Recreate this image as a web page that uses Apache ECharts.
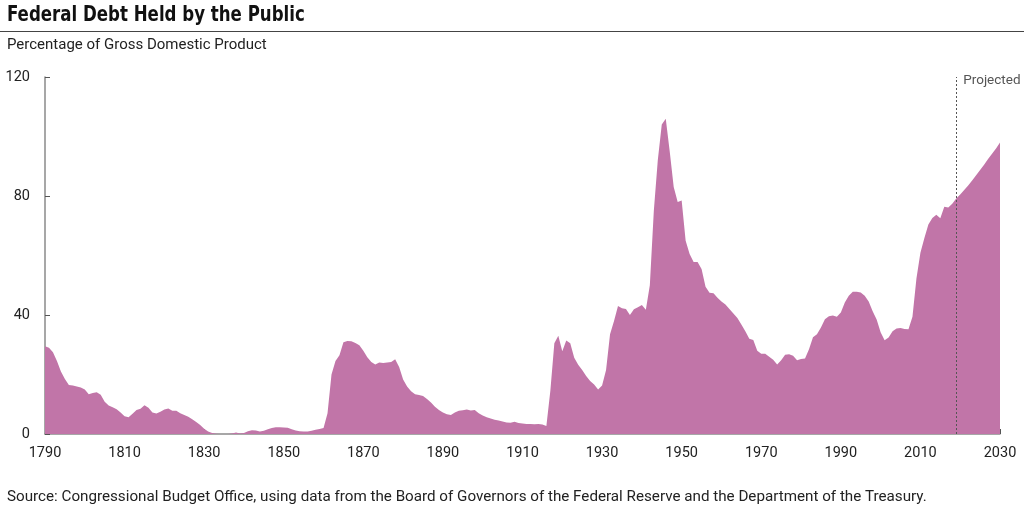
<!DOCTYPE html>
<html>
<head>
<meta charset="utf-8">
<title>Federal Debt Held by the Public</title>
<script src="https://cdn.jsdelivr.net/npm/echarts@6/dist/echarts.min.js"></script>
<style>
  html, body { margin: 0; padding: 0; background: #fff; }
  #chart { width: 1024px; height: 514px; }
</style>
</head>
<body>
<div id="chart"></div>
<script>
// years on the category axis, one per year
var years = [];
for (var yr = 1790; yr <= 2030; yr++) years.push(String(yr));

// debt held by the public, % of GDP (one value per year)
var debtShare = [
  29.5, 29, 27.5, 24.5, 21, 18.5, 16.5, 16.3, 16, 15.6,        // 1790s
  15, 13.4, 13.8, 14, 13.2, 10.8, 9.6, 9, 8.3, 7.2,            // 1800s
  6, 5.6, 6.8, 8.1, 8.5, 9.7, 8.8, 7.2, 6.9, 7.5,              // 1810s
  8.2, 8.6, 7.8, 7.8, 7, 6.4, 5.8, 5, 4, 3,                    // 1820s
  1.8, 0.8, 0.3, 0.1, 0, 0, 0, 0.2, 0.5, 0.2,                  // 1830s
  0.3, 0.9, 1.3, 1.2, 0.8, 1.1, 1.6, 2, 2.3, 2.3,              // 1840s
  2.2, 2.1, 1.6, 1.2, 0.9, 0.8, 0.8, 1.1, 1.4, 1.7,            // 1850s
  2, 7, 20, 24.5, 26.5, 30.8, 31.3, 31.2, 30.6, 29.8,          // 1860s
  28, 25.8, 24.2, 23.4, 24, 23.9, 24, 24.2, 25.1, 22.5,        // 1870s
  18.3, 16, 14.4, 13.4, 13.1, 12.8, 11.8, 10.6, 9.2, 8.1,      // 1880s
  7.2, 6.6, 6.4, 7.2, 7.8, 8, 8.2, 7.9, 8.1, 7,                // 1890s
  6.2, 5.6, 5.2, 4.8, 4.5, 4.2, 3.9, 3.8, 4.1, 3.7,            // 1900s
  3.5, 3.4, 3.4, 3.3, 3.4, 3.2, 2.7, 14.5, 30.5, 33,           // 1910s
  27.8, 31.4, 30.5, 25.6, 23.3, 21.5, 19.5, 17.8, 16.6, 15,    // 1920s
  16.3, 21.5, 33.5, 38, 43, 42.3, 42, 40, 41.9, 42.6,          // 1930s
  43.4, 41.8, 50, 75, 92, 104, 106, 95, 83, 78,                // 1940s
  78.5, 65, 60.5, 57.8, 57.8, 55.5, 49.5, 47.5, 47.3, 45.8,    // 1950s
  44.5, 43.5, 42, 40.5, 39, 36.8, 34.5, 32, 31.6, 28,          // 1960s
  27, 27, 26, 25, 23.4, 24.8, 26.6, 26.8, 26.3, 24.8,          // 1970s
  25.2, 25.4, 28.5, 32.5, 33.5, 35.8, 38.6, 39.6, 39.8, 39.4,  // 1980s
  40.8, 44.2, 46.5, 47.8, 47.8, 47.6, 46.5, 44.5, 41.3, 38.5,  // 1990s
  34.2, 31.5, 32.4, 34.5, 35.5, 35.6, 35.3, 35.2, 39.4, 52.3,  // 2000s
  60.9, 65.9, 70.4, 72.6, 73.7, 72.5, 76.4, 76.1, 77.4, 79.2,  // 2010s
  80.5, 82, 83.5, 85.2, 87, 88.7, 90.5, 92.4, 94.2, 96, 98     // 2020-2030
];

var projectedFrom = '2019';
var yMin = 0, yMax = 120, yStep = 40;

var txt = '#222';
var axisGray = '#8a8a8a';
var fill = '#c175a8';

var myChart = echarts.init(document.getElementById('chart'));

var option = {
  animation: false,
  grid: { left: 45, right: 24, top: 77, bottom: 80 },
  xAxis: {
    type: 'category',
    data: years,
    boundaryGap: false,
    axisLine: { lineStyle: { color: axisGray, width: 1.5 } },
    axisTick: { inside: true, length: 5, interval: 19, lineStyle: { color: '#555' } },
    axisLabel: { interval: 19, color: txt, fontFamily: 'Roboto', fontSize: 14.5, margin: 12 },
    splitLine: { show: false }
  },
  yAxis: {
    type: 'value',
    min: yMin,
    max: yMax,
    interval: yStep,
    axisLine: { show: true, lineStyle: { color: axisGray, width: 1.5 } },
    axisTick: { show: true, inside: true, length: 5, lineStyle: { color: '#555' } },
    axisLabel: { color: txt, fontFamily: 'Roboto', fontSize: 14.5, margin: 15 },
    splitLine: { show: false }
  },
  series: [{
    type: 'line',
    data: debtShare,
    symbol: 'none',
    lineStyle: { width: 0 },
    areaStyle: { color: fill, opacity: 1 },
    markLine: {
      silent: true,
      symbol: 'none',
      label: { show: false },
      lineStyle: { color: '#555', type: [2, 2], width: 1 },
      data: [{ xAxis: projectedFrom }]
    }
  }],
  graphic: [
    // title is squeezed a bit to get the condensed look of the original
    { type: 'text', x: 7, y: 5, scaleX: 0.88,
      style: { text: 'Federal Debt Held by the Public', fill: '#111',
        font: 'bold 21px "Liberation Sans Narrow", "DejaVu Sans Condensed", Roboto' } },
    { type: 'line', shape: { x1: 0, y1: 31.5, x2: 1024, y2: 31.5 },
      style: { stroke: '#444', lineWidth: 1 } },
    { type: 'text', x: 7, y: 38,
      style: { text: 'Percentage of Gross Domestic Product', fill: txt,
        font: '15px Roboto' } },
    { type: 'text', x: 7, y: 490,
      style: { text: 'Source: Congressional Budget Office, using data from the Board of Governors of the Federal Reserve and the Department of the Treasury.',
        fill: txt, font: '15.2px Roboto' } }
  ]
};

myChart.setOption(option);

// "Projected" label sits just right of the dashed line, at the top of the plot
var p = myChart.convertToPixel({ gridIndex: 0 }, [projectedFrom, yMax]);
myChart.setOption({
  graphic: [{
    type: 'text', id: 'projLabel', x: p[0] + 7, y: p[1] - 3,
    style: { text: 'Projected', fill: '#555', font: '13.5px Roboto' }
  }]
});
</script>
</body>
</html>
